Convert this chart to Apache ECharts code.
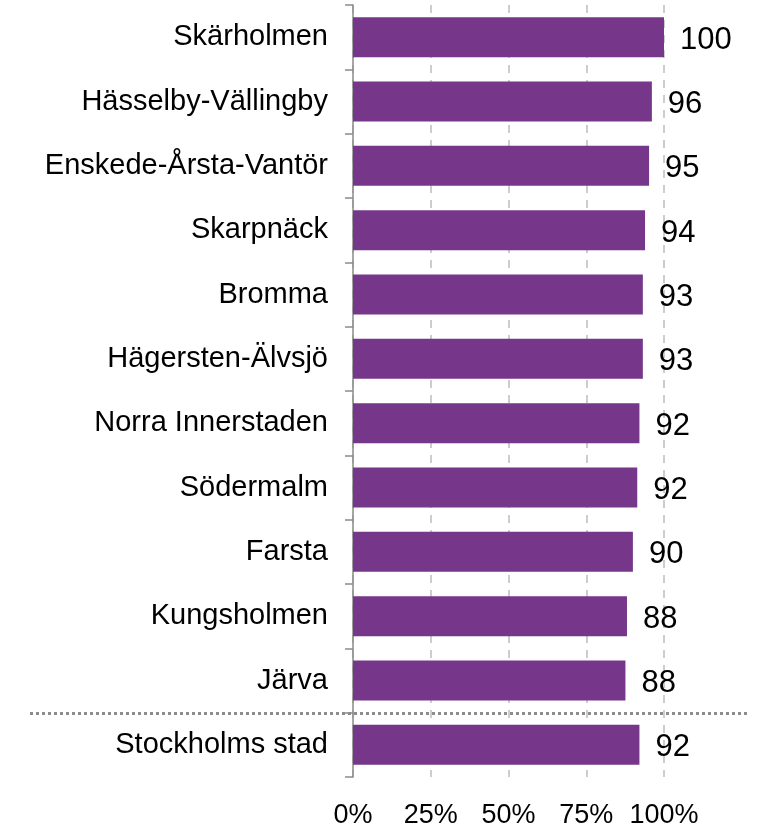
<!DOCTYPE html>
<html>
<head>
<meta charset="utf-8">
<script src="https://cdn.jsdelivr.net/npm/echarts@6/dist/echarts.min.js"></script>
<style>
html,body{margin:0;padding:0;background:#fff;}
#c{width:764px;height:829px;}
</style>
</head>
<body>
<div id="c"></div>
<script>
var categories = ["Skärholmen","Hässelby-Vällingby","Enskede-Årsta-Vantör","Skarpnäck","Bromma","Hägersten-Älvsjö","Norra Innerstaden","Södermalm","Farsta","Kungsholmen","Järva","Stockholms stad"];
var values = [100, 96.1, 95.2, 93.9, 93.2, 93.2, 92.1, 91.4, 90.0, 88.1, 87.6, 92.1];
var valueLabels = ["100","96","95","94","93","93","92","92","90","88","88","92"];
var xTicks = [0, 25, 50, 75, 100];

var chart = echarts.init(document.getElementById('c'));
var font = '"Liberation Sans", Arial, sans-serif';
chart.setOption({
  animation: false,
  backgroundColor: '#ffffff',
  grid: {left: 353, right: 100, top: 5, bottom: 52, containLabel: false},
  xAxis: {
    type: 'value', min: xTicks[0], max: xTicks[xTicks.length-1], interval: 25,
    axisLine: {show: false}, axisTick: {show: false},
    axisLabel: {formatter: '{value}%', fontSize: 27, color: '#000', fontFamily: font, margin: 25},
    splitLine: {show: true, lineStyle: {color: '#bdbdbd', width: 1.5, type: [8, 7]}}
  },
  yAxis: {
    type: 'category', data: categories, inverse: true,
    axisLine: {show: true, lineStyle: {color: '#8a8a8a', width: 1.5}},
    axisTick: {show: true, length: 8, lineStyle: {color: '#8a8a8a', width: 1.5}},
    axisLabel: {fontSize: 29, color: '#000', fontFamily: font, margin: 25}
  },
  series: [{
    type: 'bar', data: values, barWidth: 40,
    itemStyle: {color: '#76368a'},
    label: {show: true, position: 'right', distance: 16, offset: [0, 3], fontSize: 31, color: '#000', fontFamily: font,
      formatter: function(p){ return valueLabels[p.dataIndex]; }}
  }]
});

var c1 = chart.convertToPixel({yAxisIndex: 0}, categories[categories.length-2]);
var c2 = chart.convertToPixel({yAxisIndex: 0}, categories[categories.length-1]);
var yb = Math.round((c1 + c2) / 2) + 0.5;
chart.setOption({
  graphic: [{
    type: 'line', z: 100,
    shape: {x1: 30, y1: yb, x2: 748, y2: yb},
    style: {stroke: '#8c8c8c', lineWidth: 3, lineDash: [3, 3]}
  }]
});
</script>
</body>
</html>
